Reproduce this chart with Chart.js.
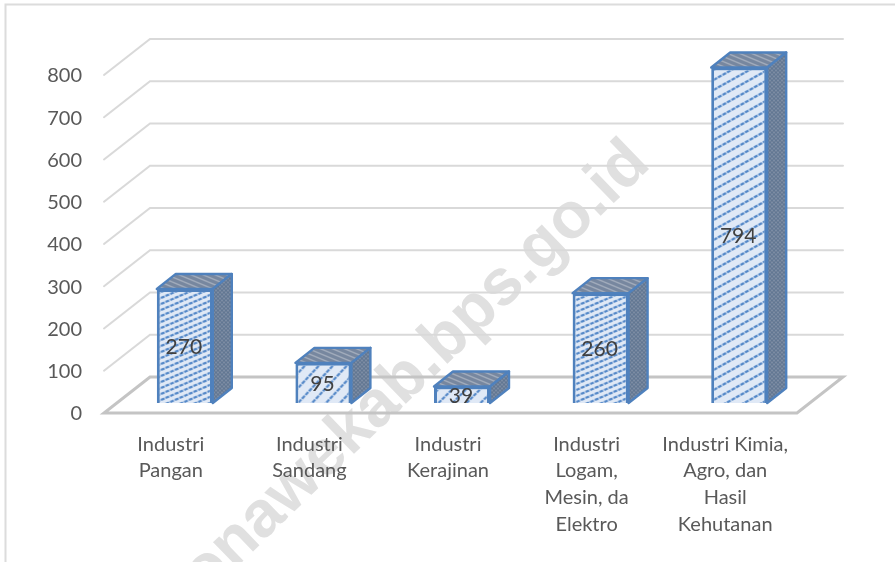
<!DOCTYPE html>
<html><head><meta charset="utf-8">
<style>html,body{margin:0;padding:0;background:#fff}canvas{display:block}#w{width:895px;height:562px}</style>
<script src="https://cdn.jsdelivr.net/npm/chart.js@4"></script></head>
<body><div id="w"><canvas id="c" width="895" height="562"></canvas></div>
<script>
const categories = [["Industri","Pangan"],["Industri","Sandang"],["Industri","Kerajinan"],["Industri","Logam,","Mesin, da","Elektro"],["Industri Kimia,","Agro, dan","Hasil","Kehutanan"]];
const values = [270,95,39,260,794];
const yTicks = [0,100,200,300,400,500,600,700,800];
const watermark = "konawekab.bps.go.id";
const FONT = "Lato, Carlito, sans-serif";
const TEXT = "#595959";

function makePattern(w,h,paint){
  const c=document.createElement('canvas');c.width=w;c.height=h;
  const x=c.getContext('2d');paint(x,w,h);
  return x.createPattern(c,'repeat');
}
const ctxMain=document.getElementById('c').getContext('2d');
function hatch(w,h){
  return makePattern(w,h,(x)=>{
    x.fillStyle='#e0e9f6';x.fillRect(0,0,w,h);
    const L=Math.hypot(w,h),n=Math.max(1,Math.round(L/4.6));
    x.strokeStyle='#5488c8';x.lineWidth=2.2;x.setLineDash([L/n*0.78,L/n*0.22]);
    [[0,0],[0,-h],[0,h]].forEach(([ox,oy])=>{
      x.beginPath();x.moveTo(-w+ox,2*h+oy);x.lineTo(2*w+ox,-h+oy);x.stroke();
    });
  });
}
const frontFills=[hatch(14,6),hatch(14,15),hatch(14,14),hatch(14,6),hatch(18,10)];
const sideFill=makePattern(4,4,(x,w)=>{
  x.fillStyle='#6d7f98';x.fillRect(0,0,w,w);
  x.fillStyle='#8a9ab0';x.fillRect(0,0,1,1);x.fillRect(2,2,1,1);
  x.fillStyle='#56708f';x.fillRect(2,0,1,1);x.fillRect(0,2,1,1);
});
const topFill=makePattern(12,5,(x,w,h)=>{
  x.fillStyle='#77879f';x.fillRect(0,0,w,h);
  x.strokeStyle='#a3adbd';x.lineWidth=1.4;
  [[0,0],[0,-h],[0,h]].forEach(([ox,oy])=>{
    x.beginPath();x.moveTo(-w+ox,-h+oy);x.lineTo(2*w+ox,2*h+oy);x.stroke();
  });
});

const DX=46, DY=36;          // floor depth
const BX=11.5, BY=10;        // bar offset into floor
const CX=19, CY=15;          // bar depth
const BORDER='#4f81bd';

const scene={
  id:'scene',
  beforeDraw(chart){
    const c=chart.ctx,{left,right}=chart.chartArea,y=chart.scales.y;
    c.save();
    c.fillStyle='#fff';c.fillRect(0,0,chart.width,chart.height);
    c.strokeStyle='#dcdcdc';c.lineWidth=2;
    c.beginPath();c.moveTo(5.5,562);c.lineTo(5.5,4.5);c.lineTo(895,4.5);c.stroke();
    c.save();
    c.translate(652,166);c.rotate(-44*Math.PI/180);
    c.font='bold 65px "Liberation Sans", Arial, sans-serif';
    c.fillStyle='#e0e0e0';c.textAlign='right';c.textBaseline='alphabetic';
    c.fillText(watermark,0,0);
    c.restore();
    c.lineCap='round';
    yTicks.forEach(t=>{
      const p=y.getPixelForValue(t);
      c.strokeStyle=t===0?'#c4c4c4':'#d9d9d9';
      c.lineWidth=t===0?3:2;
      c.beginPath();
      if(t===0){
        c.moveTo(left,p);c.lineTo(right,p);c.lineTo(right+DX,p-DY);c.lineTo(left+DX,p-DY);c.closePath();
      }else{
        c.moveTo(left,p);c.lineTo(left+DX,p-DY);c.lineTo(right+DX,p-DY);
      }
      c.stroke();
    });
    c.restore();
  },
  beforeDatasetDraw(chart){chart.ctx.save();chart.ctx.translate(BX,-BY);},
  afterDatasetDraw(chart){
    const c=chart.ctx,meta=chart.getDatasetMeta(0);
    c.lineWidth=2.4;c.strokeStyle=BORDER;c.lineJoin='round';
    meta.data.forEach((b)=>{
      const l=b.x-b.width/2,r=b.x+b.width/2,t=b.y,bt=b.base;
      c.beginPath();c.moveTo(l,t);c.lineTo(l+CX,t-CY);c.lineTo(r+CX,t-CY);c.lineTo(r,t);c.closePath();
      c.fillStyle=topFill;c.fill();c.stroke();
      c.beginPath();c.moveTo(r,t);c.lineTo(r+CX,t-CY);c.lineTo(r+CX,bt-CY);c.lineTo(r,bt);c.closePath();
      c.fillStyle=sideFill;c.fill();c.stroke();
    });
    c.restore();
    c.save();c.font='21px '+FONT;c.fillStyle='#404040';c.textAlign='center';c.textBaseline='middle';
    meta.data.forEach((b,i)=>{
      c.fillText(String(values[i]),b.x+BX-1,(b.y+b.base)/2-BY+1);
    });
    c.restore();
  }
};

new Chart(ctxMain,{
  type:'bar',
  data:{labels:categories,datasets:[{data:values,backgroundColor:frontFills,borderColor:BORDER,borderWidth:3,
    categoryPercentage:1,barPercentage:0.404}]},
  options:{
    responsive:false,animation:false,
    layout:{padding:{left:0,right:98,top:75,bottom:0}},
    plugins:{legend:{display:false},tooltip:{enabled:false},title:{display:false}},
    scales:{
      x:{grid:{display:false},border:{display:false},
        afterFit(s){s.height=149;},
        ticks:{color:TEXT,font:{family:FONT,size:20,lineHeight:1.33},padding:10,labelOffset:-2.5,maxRotation:0,autoSkip:false}},
      y:{min:0,max:800,grid:{display:false},border:{display:false},
        afterFit(s){s.width=104;},
        afterBuildTicks(s){s.ticks=yTicks.map(v=>({value:v}));},
        ticks:{color:TEXT,font:{family:FONT,size:20},padding:14,labelOffset:1}}
    }
  },
  plugins:[scene]
});
</script></body></html>
